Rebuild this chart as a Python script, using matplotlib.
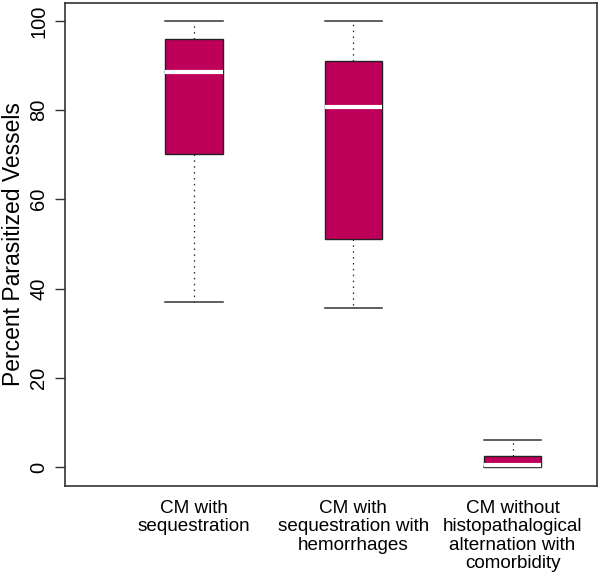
import matplotlib
matplotlib.use("Agg")
import matplotlib.pyplot as plt

plt.rcParams['font.family'] = ['Liberation Sans', 'DejaVu Sans']

categories = ["CM with\nsequestration",
              "CM with\nsequestration with\nhemorrhages",
              "CM without\nhistopathalogical\nalternation with\ncomorbidity"]
whislo = [36.9, 35.7, 0.0]
q1 = [70.1, 51.1, 0.07]
med = [88.6, 80.6, 0.45]
q3 = [96.0, 91.0, 2.45]
whishi = [100.0, 100.0, 5.95]
yticks = [0, 20, 40, 60, 80, 100]

stats = []
for lab, lo, a, m, b, hi in zip(categories, whislo, q1, med, q3, whishi):
    stats.append(dict(label=lab, whislo=lo, q1=a, med=m, q3=b, whishi=hi, fliers=[]))

fig = plt.figure(figsize=(6.0, 5.76), dpi=100)
ax = fig.add_axes([0.1083, 0.1568, 0.8867, 0.838])

positions = [1, 2, 3]
ax.bxp(stats, positions=positions, widths=0.36, patch_artist=True,
       boxprops=dict(facecolor='#BE005A', edgecolor='#222222', linewidth=1.0),
       medianprops=dict(color='white', linewidth=3.0, solid_capstyle='butt'),
       whiskerprops=dict(color='#222222', linewidth=0.9, linestyle=(0, (1.2, 3.5))),
       capprops=dict(color='#333333', linewidth=1.1),
       capwidths=0.36, showfliers=False)

ax.set_xlim(0.19, 3.53)
ax.set_ylim(-4.2, 104)
ax.set_yticks(yticks)
ax.set_yticklabels([str(v) for v in yticks], rotation=90, va='center', fontsize=14.5)
ax.set_xticks(positions)
ax.set_xticklabels(categories, fontsize=13.6, linespacing=1.12)
ax.tick_params(axis='x', length=0, pad=10)
ax.tick_params(axis='y', length=7, width=1.0, color='#333333', pad=5)
ax.set_ylabel("Percent Parasitized Vessels", fontsize=16.5, labelpad=3)
for s in ax.spines.values():
    s.set_color('#333333')
    s.set_linewidth(1.2)

fig.savefig("out.png", dpi=100)
